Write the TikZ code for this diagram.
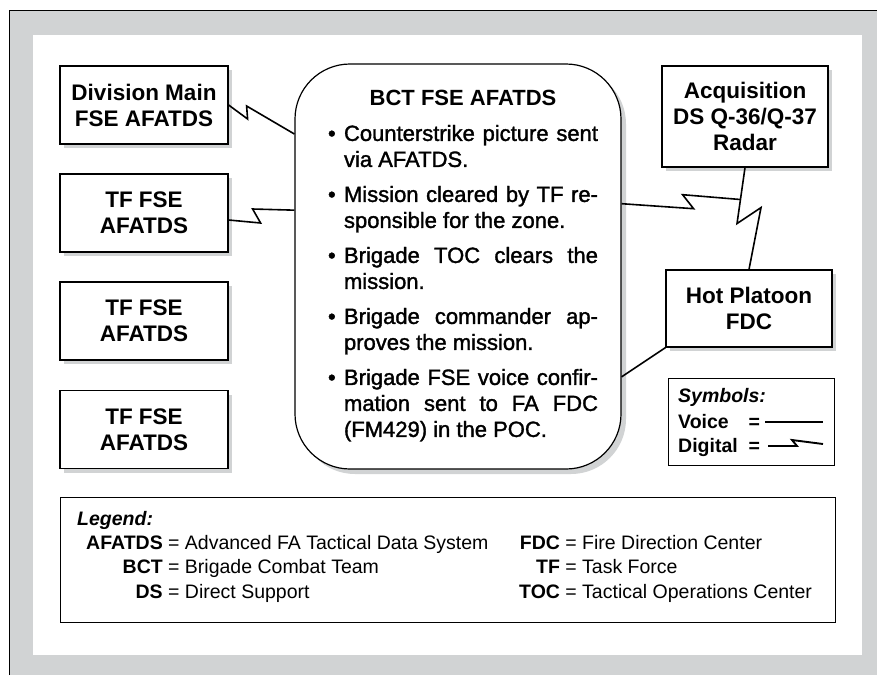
\documentclass[tikz,border=0pt]{standalone}
\usepackage{fontspec}
\setmainfont{Liberation Sans}
\newfontfamily\medfont[FakeBold=1.5]{Liberation Sans}
\usetikzlibrary{calc}
\definecolor{panelgray}{RGB}{209,211,212}
\definecolor{shadegray}{RGB}{209,211,212}

\newcommand{\boxfont}{\fontsize{22.5}{26}\selectfont\bfseries}
\newcommand{\legfont}{\fontsize{19.5}{24.5}\selectfont}
\newcommand{\bctitem}[1]{\par\vspace{9pt}\noindent\hangindent=16pt\hangafter=1\makebox[16pt][l]{\textbullet}#1\par}

\tikzset{
	shade/.style={preaction={fill=shadegray,transform canvas={shift={(#1,-#1)}}}},
	unitbox/.style={draw=black,line width=1.2pt,fill=white,inner sep=0pt,
		minimum width=168pt,minimum height=78pt,align=center,font=\boxfont,shade=4pt},
	bctbox/.style={draw=black,line width=1.2pt,fill=white,rounded corners=55pt,
		minimum width=326pt,minimum height=405pt,shade=5pt},
	keybox/.style={draw=black,line width=1pt,fill=white,inner sep=0pt},
	link/.style={black,line width=1.6pt,line join=miter},
	keytext/.style={anchor=base west,inner sep=0pt,font=\legfont}
}

\begin{document}
\begin{tikzpicture}[x=1pt,y=-1pt]
	\useasboundingbox (0,0) rectangle (877,675);
	% panel
	\fill[panelgray] (9,10) rectangle (877,675);
	\draw[line width=1pt] (9,675) -- (9,10) -- (877,10);
	\fill[white] (33,35) rectangle (862,655);

	% units
	\node[unitbox] (div) at (144,105) {Division Main\\FSE AFATDS};
	\node[unitbox] (tf1) at (144,213) {TF FSE\\AFATDS};
	\node[unitbox] (tf2) at (144,321) {TF FSE\\AFATDS};
	\node[unitbox] (tf3) at (144,429.5) {TF FSE\\AFATDS};
	\node[unitbox,minimum width=166pt,minimum height=101pt] (acq) at (745,116.5) {Acquisition\\DS Q-36/Q-37\\Radar};
	\node[unitbox,minimum width=166pt,minimum height=77pt] (hot) at (749,308.5) {Hot Platoon\\FDC};

	% BCT FSE
	\node[bctbox] (bct) at (458,266.5) {};
	\node[inner sep=0pt] (bcttext) at (463,266) {\begin{minipage}{270pt}
		\medfont\fontsize{22}{26}\selectfont\hyphenpenalty=10000
		{\centering\normalfont\bfseries\fontsize{22}{26}\selectfont BCT FSE AFATDS\par}%
		\bctitem{Counterstrike picture sent\linebreak via AFATDS.}%
		\bctitem{Mission cleared by TF re-\linebreak sponsible for the zone.}%
		\bctitem{Brigade TOC clears the\linebreak mission.}%
		\bctitem{Brigade commander ap-\linebreak proves the mission.}%
		\bctitem{Brigade FSE voice confir-\linebreak mation sent to FA FDC\linebreak (FM429) in the POC.}%
	\end{minipage}};

	% links
	\draw[link] (div.east) -- ++(19,14) -- ++(-1,-13) -- (bct.141.6);
	\draw[link] ([yshift=-7pt]tf1.east) -- ++(32,3) -- ++(-8,-14) -- (bct.161.7);
	\coordinate (acqk) at ($(acq.south)+(-8,56)$);
	\coordinate (hotk) at ($(acqk)+(24,-16)$);
	\draw[link] (acq.south) -- (acqk) -- (hotk) -- (hot.north);
	\coordinate (jn) at ($(acq.south)!0.57!(acqk)$);
	\draw[link] (bct.21.1) -- ++(72,5) -- ++(-11,-14) -- (jn);
	\draw[link] (bct.-34.3) -- (hot.south west);

	% symbols
	\node[keybox,minimum width=166pt,minimum height=87pt] (sym) at (751,421.5) {};
	\node[keytext] (symtitle) at (678,402) {\textbf{\textit{Symbols:}}};
	\node[keytext] (symkey) at (678,428) {\bfseries\begin{tabular}[t]{@{}l@{\ \ }l@{}}Voice & =\\ Digital & =\end{tabular}};
	\coordinate (voicea) at (765,422);
	\coordinate (voiceb) at (823,422);
	\coordinate (digia) at (768,446);
	\coordinate (digib) at (823,444);
	\draw[link,line width=1.9pt] (voicea) -- (voiceb);
	\draw[link,line width=1.9pt] (digia) -- ++(29,0) -- ++(-5,-6) -- (digib);

	% legend
	\node[keybox,minimum width=775pt,minimum height=125pt] (legend) at (447.5,559.5) {};
	\node[keytext] (legtitle) at (77,525) {\textbf{\textit{Legend:}}};
	\node[keytext] (legleft) at (86,549) {\begin{tabular}[t]{@{}r@{\ =\ }l@{}}
		\textbf{AFATDS} & Advanced FA Tactical Data System\\
		\textbf{BCT} & Brigade Combat Team\\
		\textbf{DS} & Direct Support
	\end{tabular}};
	\node[keytext] (legright) at (519,549) {\begin{tabular}[t]{@{}r@{\ =\ }l@{}}
		\textbf{FDC} & Fire Direction Center\\
		\textbf{TF} & Task Force\\
		\textbf{TOC} & Tactical Operations Center
	\end{tabular}};
\end{tikzpicture}
\end{document}
